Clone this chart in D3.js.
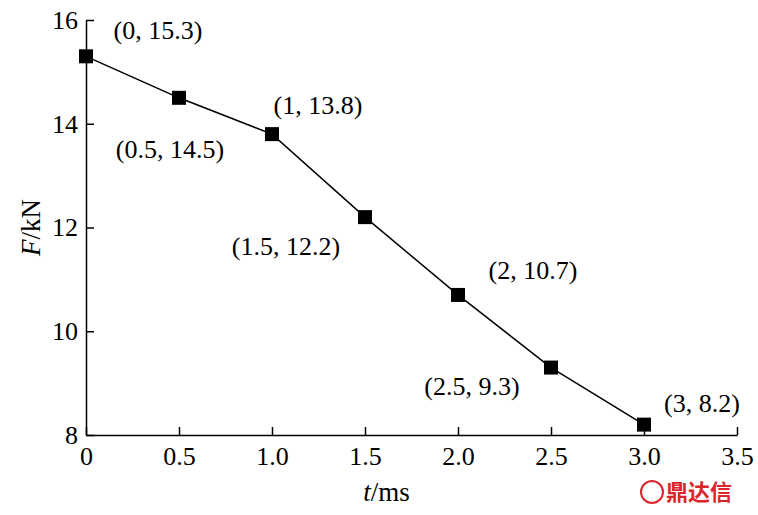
<!DOCTYPE html>
<html>
<head>
<meta charset="utf-8">
<script src="https://cdn.jsdelivr.net/npm/d3@7"></script>
<style>
body { margin: 0; background: #fff; }
svg text { font-family: "Liberation Serif", serif !important; }
svg text.cjk { font-family: "Noto Sans CJK SC", sans-serif !important; }
</style>
</head>
<body>
<svg id="chart"></svg>
<script>
const times = [0, 0.5, 1, 1.5, 2, 2.5, 3];
const forces = [15.3, 14.5, 13.8, 12.2, 10.7, 9.3, 8.2];
const pointLabels = ["(0, 15.3)", "(0.5, 14.5)", "(1, 13.8)", "(1.5, 12.2)", "(2, 10.7)", "(2.5, 9.3)", "(3, 8.2)"];
const xTicks = [0, 0.5, 1.0, 1.5, 2.0, 2.5, 3.0, 3.5];
const yTicks = [8, 10, 12, 14, 16];
// label offsets from each point, in pixels
const labelOffsets = [[72, -26], [-9, 51], [46, -29], [-79, 29], [75, -25], [-79, 18], [58, -22]];

const W = 758, H = 515;
const margin = { top: 20, right: 21, bottom: 80, left: 86 };
const width = W - margin.left - margin.right;
const height = H - margin.top - margin.bottom;

const svg = d3.select("#chart").attr("width", W).attr("height", H);
const g = svg.append("g").attr("transform", `translate(${margin.left},${margin.top})`);

const x = d3.scaleLinear().domain([0, 3.5]).range([0, width]);
const y = d3.scaleLinear().domain([8, 16]).range([height, 0]);

const xAxis = g.append("g")
	.attr("transform", `translate(0,${height})`)
	.call(d3.axisBottom(x).tickValues(xTicks).tickFormat(d => d === 0 ? "0" : d3.format(".1f")(d)).tickSizeInner(-8).tickSizeOuter(0).tickPadding(12));
xAxis.selectAll("text").attr("font-size", "26px").attr("fill", "#000");

const yAxis = g.append("g")
	.call(d3.axisLeft(y).tickValues(yTicks).tickSizeInner(-8).tickSizeOuter(0).tickPadding(8));
yAxis.selectAll("text").attr("font-size", "26px").attr("fill", "#000");
g.selectAll(".domain, .tick line").attr("stroke", "#000").attr("stroke-width", 1.5);

const line = d3.line().x((d, i) => x(times[i])).y(d => y(d));
g.append("path").datum(forces).attr("d", line)
	.attr("fill", "none").attr("stroke", "#000").attr("stroke-width", 1.5);

g.selectAll(".pt").data(forces).enter().append("rect")
	.attr("x", (d, i) => x(times[i]) - 7)
	.attr("y", d => y(d) - 7)
	.attr("width", 14).attr("height", 14).attr("fill", "#000");

g.selectAll(".lbl").data(forces).enter().append("text")
	.attr("x", (d, i) => x(times[i]) + labelOffsets[i][0])
	.attr("y", (d, i) => y(d) + labelOffsets[i][1])
	.attr("dy", "0.35em")
	.attr("text-anchor", "middle")
	.attr("font-size", "26px")
	.text((d, i) => pointLabels[i]);

svg.append("text")
	.attr("x", margin.left + width / 2 - 25).attr("y", H - 14)
	.attr("text-anchor", "middle").attr("font-size", "27px")
	.html('<tspan font-style="italic">t</tspan>/ms');

svg.append("text")
	.attr("transform", `translate(40,${margin.top + height / 2}) rotate(-90)`)
	.attr("text-anchor", "middle").attr("font-size", "27px")
	.html('<tspan font-style="italic">F</tspan>/kN');

const wm = svg.append("g").attr("transform", "translate(652,492)");
wm.append("circle").attr("r", 11).attr("fill", "none").attr("stroke", "#d9262c").attr("stroke-width", 2);
wm.append("text").attr("class", "cjk").attr("x", 14).attr("y", 8).attr("font-size", "22px").attr("fill", "#d9262c")
	.attr("font-weight", "bold").text("鼎达信");
</script>
</body>
</html>
